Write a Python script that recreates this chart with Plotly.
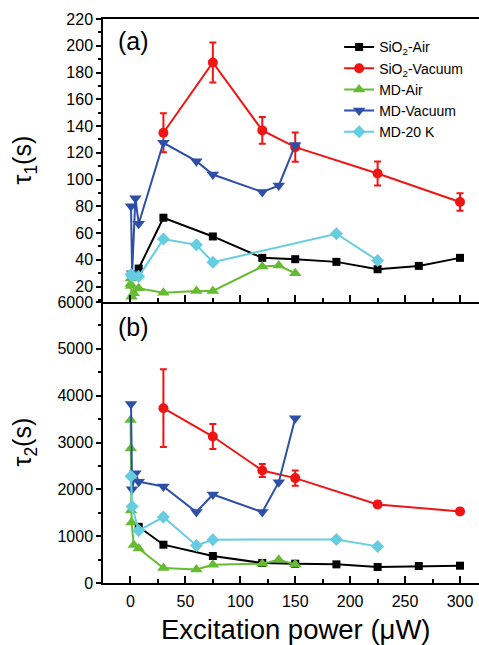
import plotly.graph_objects as go

# ---------------- data ----------------
x_sio2_air = [7.5, 30, 75, 120, 150, 187.5, 225, 262.5, 300]
tau1_sio2_air = [33.5, 71.5, 57.5, 41.5, 40.5, 38.5, 33, 35.5, 41.5]
tau2_sio2_air = [1200, 818, 576, 427, 412, 398, 341, 363, 370]

x_sio2_vac = [30, 75, 120, 150, 225, 300]
tau1_sio2_vac = [135, 187.5, 136.75, 124.25, 104.5, 83.25]
tau1_sio2_vac_err = [14.5, 15, 10, 11, 9, 6.5]
tau2_sio2_vac = [3733, 3128, 2403, 2240, 1678, 1529]
tau2_sio2_vac_err = [830, 265, 140, 165, 60, 50]

x_md_air = [0.1, 0.3, 0.5, 1, 3, 7.5, 30, 60, 75, 120, 135, 150]
tau1_md_air = [22, 26, 20.5, 12.5, 15, 18.75, 15.5, 16.75, 16.75, 35, 35.75, 30]
tau2_md_air = [3480, 2870, 1550, 1290, 810, 735, 320, 290, 390, 412, 498, 398]

x_md_vac = [0.5, 1.5, 4.5, 7.5, 30, 60, 75, 120, 135, 150]
tau1_md_vac = [80, 30, 86, 67, 127.5, 113.75, 103.75, 90.75, 95.5, 125.75]
tau2_md_vac = [3822, 2000, 2342, 2163, 2062, 1514, 1891, 1514, 2154, 3519]

x_md_20k = [0.5, 1.5, 7.5, 30, 60, 75, 187.5, 225]
tau1_md_20k = [29, 28, 27.5, 55.5, 51.25, 38.25, 59.5, 39.5]
tau2_md_20k = [2282, 1635, 1120, 1408, 803, 924, 931, 782]

series_names = ["SiO<sub>2</sub>-Air", "SiO<sub>2</sub>-Vacuum", "MD-Air", "MD-Vacuum", "MD-20 K"]
x_tick_vals = [0, 50, 100, 150, 200, 250, 300]

# ---------------- style ----------------
FONT = "Liberation Sans, Arial, Helvetica, sans-serif"
colors = ["#000000", "#F01515", "#66BB33", "#2E4FA8", "#66CCE0"]
symbols = ["square", "circle", "triangle-up", "triangle-down", "diamond"]
msizes = [8, 10, 11, 11, 10]

series = [
    (x_sio2_air, tau1_sio2_air, tau2_sio2_air, None, None),
    (x_sio2_vac, tau1_sio2_vac, tau2_sio2_vac, tau1_sio2_vac_err, tau2_sio2_vac_err),
    (x_md_air, tau1_md_air, tau2_md_air, None, None),
    (x_md_vac, tau1_md_vac, tau2_md_vac, None, None),
    (x_md_20k, tau1_md_20k, tau2_md_20k, None, None),
]

fig = go.Figure()
for i, (xs, y1, y2, e1, e2) in enumerate(series):
    common = dict(
        mode="lines+markers",
        line=dict(color=colors[i], width=2),
        marker=dict(symbol=symbols[i], size=msizes[i], color=colors[i],
                    line=dict(width=0)),
    )
    err1 = dict(type="data", array=e1, visible=True, color=colors[i],
                thickness=2, width=3.5) if e1 else None
    err2 = dict(type="data", array=e2, visible=True, color=colors[i],
                thickness=2, width=3.5) if e2 else None
    fig.add_trace(go.Scatter(x=xs, y=y1, name=series_names[i], xaxis="x", yaxis="y",
                             error_y=err1, showlegend=True, **common))
    fig.add_trace(go.Scatter(x=xs, y=y2, name=series_names[i], xaxis="x2", yaxis="y2",
                             error_y=err2, showlegend=False, **common))

split = 0.4982
xrange_ = [-25, 317.3]
xcommon = dict(range=xrange_, showline=True, linecolor="black", linewidth=1.5,
               ticks="inside", ticklen=7, tickwidth=1.5, tickcolor="black",
               tickvals=x_tick_vals, showgrid=False, zeroline=False,
               minor=dict(ticks="inside", ticklen=4, tickwidth=1.5, tickcolor="black",
                          dtick=25, tick0=0, showgrid=False),
               tickfont=dict(family=FONT, size=16, color="black"))

fig.update_layout(
    width=479, height=645,
    margin=dict(l=103, r=0, t=19, b=62),
    paper_bgcolor="white", plot_bgcolor="white",
    font=dict(family=FONT, color="black"),
    xaxis=dict(anchor="y", showticklabels=False, mirror=True, **xcommon),
    xaxis2=dict(anchor="y2", showticklabels=True, ticklabelstandoff=3, **xcommon),
    yaxis=dict(domain=[split, 1], anchor="x", range=[8.5, 220], dtick=20, tick0=0,
               showline=True, linecolor="black", linewidth=1.5,
               ticks="outside", ticklen=5, tickwidth=1.5, tickcolor="black",
               minor=dict(ticks="outside", ticklen=3, tickwidth=1.5, tickcolor="black",
                          dtick=10, tick0=0),
               showgrid=False, zeroline=False,
               tickfont=dict(family=FONT, size=16, color="black")),
    yaxis2=dict(domain=[0, split], anchor="x2", range=[0, 6000], dtick=1000, tick0=0,
                showline=True, linecolor="black", linewidth=1.5,
                ticks="outside", ticklen=5, tickwidth=1.5, tickcolor="black",
                minor=dict(ticks="outside", ticklen=3, tickwidth=1.5, tickcolor="black",
                           dtick=500, tick0=0),
                showgrid=False, zeroline=False,
                tickfont=dict(family=FONT, size=16, color="black")),
    legend=dict(x=0.628, y=0.978, xanchor="left", yanchor="top",
                font=dict(family=FONT, size=14, color="black"),
                bgcolor="rgba(0,0,0,0)", tracegroupgap=0, itemwidth=30),
    showlegend=True,
)

annotations = [
    dict(text="(a)", xref="paper", yref="paper", x=0, y=1, xanchor="left", yanchor="middle",
         xshift=13, yshift=-22, showarrow=False, font=dict(family=FONT, size=25, color="black")),
    dict(text="(b)", xref="paper", yref="paper", x=0, y=split, xanchor="left", yanchor="middle",
         xshift=13, yshift=-25, showarrow=False, font=dict(family=FONT, size=25, color="black")),
    dict(text="τ<sub>1</sub>(s)", xref="paper", yref="paper", x=0, y=(1 + split) / 2,
         xanchor="center", yanchor="middle", textangle=-90, xshift=-79, showarrow=False,
         font=dict(family=FONT, size=25, color="black")),
    dict(text="τ<sub>2</sub>(s)", xref="paper", yref="paper", x=0, y=split / 2,
         xanchor="center", yanchor="middle", textangle=-90, xshift=-79, showarrow=False,
         font=dict(family=FONT, size=25, color="black")),
    dict(text="Excitation power (μW)", xref="paper", yref="paper", x=(130.7 - 103 + 165) / 376, y=0,
         xanchor="center", yanchor="middle", yshift=-46, showarrow=False,
         font=dict(family=FONT, size=27.5, color="black")),
]
fig.update_layout(annotations=annotations)

fig.write_html("out.html")
